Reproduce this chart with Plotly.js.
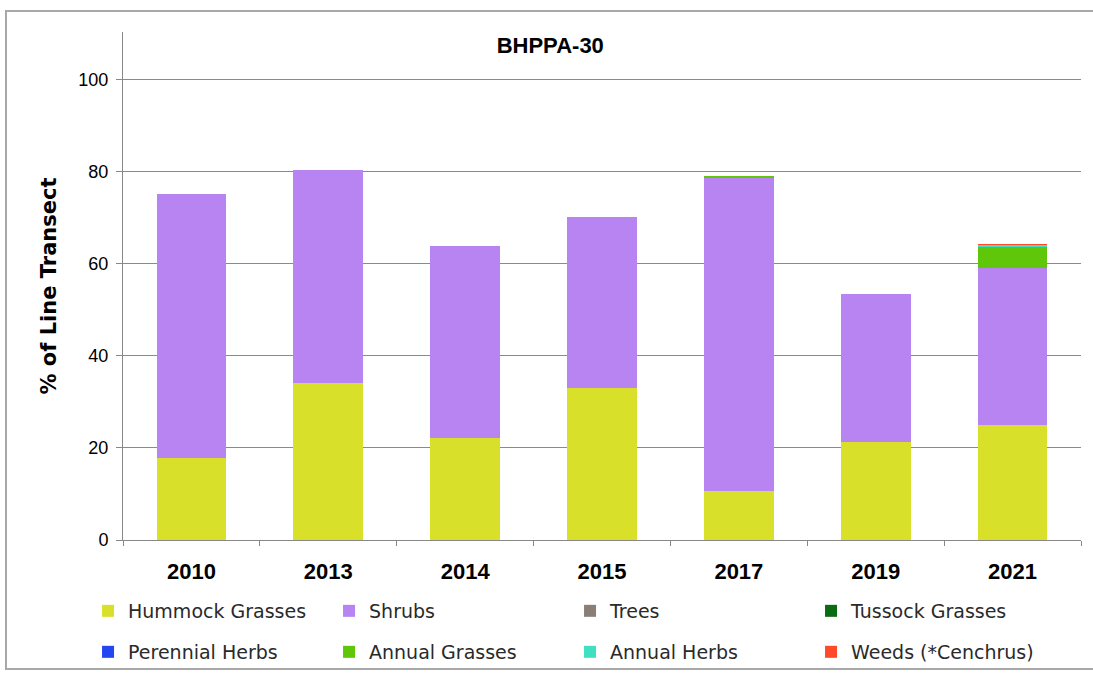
<!DOCTYPE html>
<html>
<head>
<meta charset="utf-8">
<script src="https://cdn.plot.ly/plotly-3.0.1.min.js"></script>
<style>
html,body{margin:0;padding:0;background:#fff;}
#wrap{position:relative;width:1093px;height:682px;}
#chart{width:1093px;height:682px;}
#frame{position:absolute;left:5px;top:10px;width:1100px;height:660px;border:2px solid #a8a8a8;box-sizing:border-box;pointer-events:none;}
</style>
</head>
<body>
<div id="wrap"><div id="chart"></div><div id="frame"></div></div>
<script>
var years = ['2010','2013','2014','2015','2017','2019','2021'];
var hummockGrasses = [17.8, 34.1, 22.1, 33.0, 10.6, 21.3, 24.9];
var shrubs = [57.5, 46.4, 41.7, 37.3, 68.1, 32.1, 34.3];
var trees = [0, 0, 0, 0, 0, 0, 0];
var tussockGrasses = [0, 0, 0, 0, 0, 0, 0];
var perennialHerbs = [0, 0, 0, 0, 0, 0, 0];
var annualGrasses = [0, 0, 0, 0, 0.4, 0, 4.4];
var annualHerbs = [0, 0, 0, 0, 0, 0, 0.5];
var weeds = [0, 0, 0, 0, 0, 0, 0.2];

var seriesNames = ['Hummock Grasses','Shrubs','Trees','Tussock Grasses','Perennial Herbs','Annual Grasses','Annual Herbs','Weeds (*Cenchrus)'];
var seriesData = [hummockGrasses, shrubs, trees, tussockGrasses, perennialHerbs, annualGrasses, annualHerbs, weeds];
var seriesColors = ['#d8e02a','#b884f2','#8a7f77','#0b6b12','#2346f0','#5fc60a','#3fe0c2','#ff4a2a'];

var traces = seriesNames.map(function(n,i){
  return {type:'bar', name:n, x:years, y:seriesData[i], legend:(i<4?'legend':'legend2'),
          marker:{color:seriesColors[i], line:{width:0}}, hoverinfo:'x+y+name'};
});

var legendFont = {family:'DejaVu Sans, Arial, sans-serif', size:19, color:'#2a2a2a'};
var layout = {
  width:1093, height:682,
  barmode:'stack', bargap:0.49,
  paper_bgcolor:'#ffffff', plot_bgcolor:'#ffffff',
  margin:{l:123, r:12, t:32, b:141},
  font:{family:'Open Sans, Arial, sans-serif', color:'#000'},
  title:{text:'<b>BHPPA-30</b>', x:0.446, xanchor:'center', xref:'paper', y:0.934, yref:'container', yanchor:'middle',
         font:{family:'Liberation Sans Narrow, Liberation Sans, Arial, sans-serif', size:22, color:'#000'}},
  xaxis:{type:'category', showline:true, linecolor:'#888', linewidth:1, ticks:'outside', tickson:'boundaries', ticklen:5, tickcolor:'#888',
         ticklabelstandoff:12,
         tickfont:{family:'Liberation Sans Narrow, Liberation Sans, Arial, sans-serif', size:22, color:'#000'}, tickprefix:'<b>', ticksuffix:'</b>', showgrid:false, fixedrange:true},
  yaxis:{range:[0,110.4], tickvals:[0,20,40,60,80,100], showgrid:true, gridcolor:'#8a8a8a', gridwidth:1, showline:true, linecolor:'#888', linewidth:1,
         ticks:'outside', ticklen:6, tickcolor:'#888', zeroline:false, ticklabelstandoff:4,
         tickfont:{family:'Liberation Sans, Arial, sans-serif', size:18, color:'#000'},
         title:{text:'<b>% of Line Transect</b>', standoff:16, font:{family:'DejaVu Sans, Arial, sans-serif', size:21, color:'#000'}}},
  showlegend:true,
  legend:{orientation:'h', x:-0.0365, xanchor:'left', y:-0.1375, yanchor:'middle', traceorder:'normal',
          entrywidth:196, entrywidthmode:'pixels', tracegroupgap:0, font:legendFont, bgcolor:'rgba(0,0,0,0)'},
  legend2:{orientation:'h', x:-0.0365, xanchor:'left', y:-0.218, yanchor:'middle', traceorder:'normal',
          entrywidth:196, entrywidthmode:'pixels', tracegroupgap:0, font:legendFont, bgcolor:'rgba(0,0,0,0)'}
};

Plotly.newPlot('chart', traces, layout, {displayModeBar:false, staticPlot:true});
</script>
</body>
</html>
